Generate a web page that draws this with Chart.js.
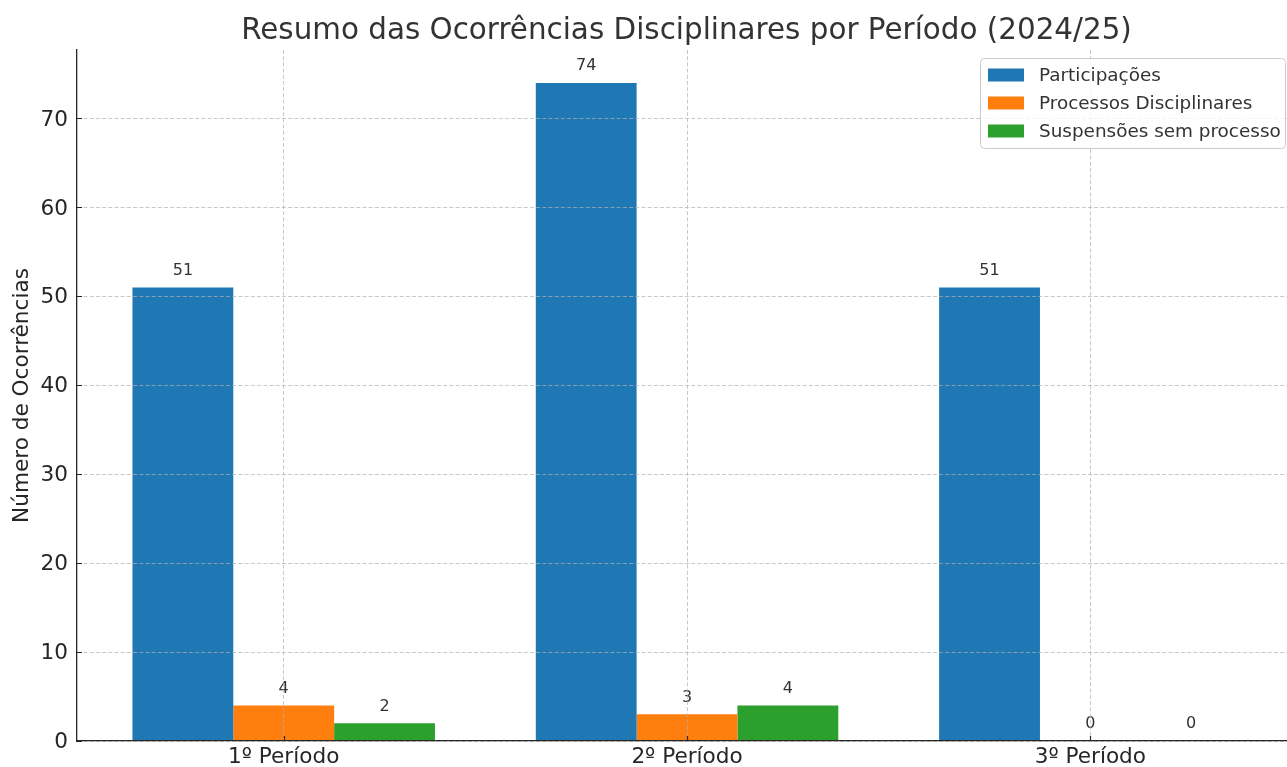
<!DOCTYPE html>
<html lang="pt">
<head>
<meta charset="utf-8">
<title>Resumo das Ocorrências Disciplinares</title>
<script src="https://cdn.jsdelivr.net/npm/chart.js@4.4.1/dist/chart.umd.min.js"></script>
<style>
  html, body { margin: 0; padding: 0; background: #ffffff; overflow: hidden; }
  canvas { display: block; }
</style>
</head>
<body>
<canvas id="chart" width="1287" height="767"></canvas>
<script>
// Períodos letivos e contagens por tipo de ocorrência
const periodos = ['1º Período', '2º Período', '3º Período'];
const participacoes = [51, 74, 51];
const processosDisciplinares = [4, 3, 0];
const suspensoesSemProcesso = [2, 4, 0];
const yTicks = [0, 10, 20, 30, 40, 50, 60, 70];

const titulo = 'Resumo das Ocorrências Disciplinares por Período (2024/25)';
const FONT = "'DejaVu Sans', 'Liberation Sans', sans-serif";
const TEXT = '#333333';
const AXIS = '#262626';

function pontos(valores) {
  return valores.map((v, i) => ({ x: i, y: v }));
}

// Título centrado sobre os eixos
const tituloPlugin = {
  id: 'tituloPlugin',
  afterDraw(chart) {
    const ctx = chart.ctx;
    ctx.save();
    ctx.font = '29.4px ' + FONT;
    ctx.fillStyle = TEXT;
    ctx.textAlign = 'center';
    ctx.textBaseline = 'alphabetic';
    ctx.fillText(titulo, 686.5, 38.5);
    ctx.restore();
  }
};

// Marcas de escala voltadas para dentro do gráfico
const marcasPlugin = {
  id: 'marcasPlugin',
  afterDraw(chart) {
    const { ctx, chartArea, scales } = chart;
    ctx.save();
    ctx.strokeStyle = AXIS;
    ctx.lineWidth = 1.2;
    ctx.beginPath();
    yTicks.forEach(t => {
      const y = Math.round(scales.y.getPixelForValue(t)) + 0.5;
      ctx.moveTo(chartArea.left, y);
      ctx.lineTo(chartArea.left + 5, y);
    });
    periodos.forEach((p, i) => {
      const x = Math.round(scales.x.getPixelForValue(i)) + 0.5;
      ctx.moveTo(x, chartArea.bottom);
      ctx.lineTo(x, chartArea.bottom - 5);
    });
    ctx.stroke();
    ctx.restore();
  }
};

// Valores escritos por cima de cada barra
const valoresPlugin = {
  id: 'valoresPlugin',
  afterDatasetsDraw(chart) {
    const ctx = chart.ctx;
    const yScale = chart.scales.y;
    ctx.save();
    ctx.font = '16px ' + FONT;
    ctx.fillStyle = TEXT;
    ctx.textAlign = 'center';
    ctx.textBaseline = 'alphabetic';
    chart.data.datasets.forEach((ds, di) => {
      const meta = chart.getDatasetMeta(di);
      meta.data.forEach((bar, i) => {
        const v = ds.data[i].y;
        const y = yScale.getPixelForValue(v + 1) - 3.7;
        ctx.fillText(String(v), bar.x, y);
      });
    });
    ctx.restore();
  }
};

// Legenda no canto superior direito
const legendaPlugin = {
  id: 'legendaPlugin',
  afterDraw(chart) {
    const ctx = chart.ctx;
    const bx = 980.5, by = 58.5, bw = 305, bh = 90, r = 4;
    ctx.save();
    ctx.beginPath();
    ctx.moveTo(bx + r, by);
    ctx.lineTo(bx + bw - r, by);
    ctx.arcTo(bx + bw, by, bx + bw, by + r, r);
    ctx.lineTo(bx + bw, by + bh - r);
    ctx.arcTo(bx + bw, by + bh, bx + bw - r, by + bh, r);
    ctx.lineTo(bx + r, by + bh);
    ctx.arcTo(bx, by + bh, bx, by + bh - r, r);
    ctx.lineTo(bx, by + r);
    ctx.arcTo(bx, by, bx + r, by, r);
    ctx.closePath();
    ctx.fillStyle = 'rgba(255,255,255,0.8)';
    ctx.fill();
    ctx.strokeStyle = '#cccccc';
    ctx.lineWidth = 1;
    ctx.stroke();
    ctx.font = '18.4px ' + FONT;
    ctx.textAlign = 'left';
    ctx.textBaseline = 'middle';
    chart.data.datasets.forEach((ds, i) => {
      const cy = 75 + i * 28;
      ctx.fillStyle = ds.backgroundColor;
      ctx.fillRect(988, cy - 6.5, 36, 13);
      ctx.fillStyle = TEXT;
      ctx.fillText(ds.label, 1039, cy + 1);
    });
    ctx.restore();
  }
};

new Chart(document.getElementById('chart'), {
  type: 'bar',
  data: {
    datasets: [
      { label: 'Participações', data: pontos(participacoes), backgroundColor: '#1f77b4' },
      { label: 'Processos Disciplinares', data: pontos(processosDisciplinares), backgroundColor: '#ff7f0e' },
      { label: 'Suspensões sem processo', data: pontos(suspensoesSemProcesso), backgroundColor: '#2ca02c' }
    ]
  },
  options: {
    responsive: false,
    animation: false,
    devicePixelRatio: 1,
    layout: { padding: { top: 50, right: 0, left: 0, bottom: 0 } },
    datasets: {
      bar: { categoryPercentage: 0.75, barPercentage: 1.0, borderWidth: 0 }
    },
    plugins: {
      legend: { display: false },
      title: { display: false },
      tooltip: { enabled: false }
    },
    scales: {
      x: {
        type: 'linear',
        offset: false,
        bounds: 'ticks',
        min: -0.5125,
        max: 2.4875,
        afterBuildTicks(scale) {
          scale.ticks = periodos.map((p, i) => ({ value: i }));
        },
        afterFit(scale) { scale.height = 26; },
        ticks: {
          callback: (v) => periodos[v],
          font: { family: FONT, size: 21.6 },
          color: AXIS,
          padding: 3,
          maxRotation: 0,
          autoSkip: false
        },
        grid: {
          display: true,
          offset: false,
          drawTicks: false,
          color: 'rgba(176,176,176,0.7)',
          lineWidth: 1,
          z: 1
        },
        border: { display: true, color: AXIS, width: 1.3, dash: [4, 2.2], z: 2 }
      },
      y: {
        type: 'linear',
        min: 0,
        max: 77.7,
        afterBuildTicks(scale) {
          scale.ticks = yTicks.map(v => ({ value: v }));
        },
        afterFit(scale) { scale.width = 77; },
        ticks: {
          font: { family: FONT, size: 21.6 },
          color: AXIS,
          padding: 9,
          labelOffset: 1.5
        },
        grid: {
          display: true,
          drawTicks: false,
          color: 'rgba(176,176,176,0.7)',
          lineWidth: 1,
          z: 1
        },
        border: { display: true, color: AXIS, width: 1.3, dash: [4, 2.2], z: 2 },
        title: {
          display: true,
          text: 'Número de Ocorrências',
          font: { family: FONT, size: 21.6 },
          color: AXIS,
          padding: { top: 9, bottom: 0 }
        }
      }
    }
  },
  plugins: [valoresPlugin, tituloPlugin, marcasPlugin, legendaPlugin]
});
</script>
</body>
</html>
